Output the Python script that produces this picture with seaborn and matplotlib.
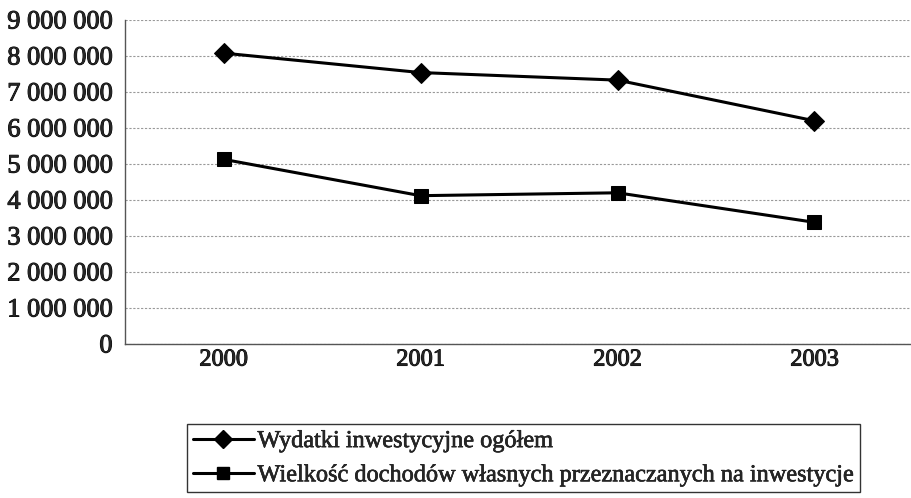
import numpy as np
import pandas as pd
import seaborn as sns
import matplotlib
matplotlib.use("Agg")
import matplotlib.pyplot as plt
import matplotlib.patheffects as pe
from matplotlib.ticker import FuncFormatter, FixedLocator

# =========================
# DATA
# =========================
years = ["2000", "2001", "2002", "2003"]
wydatki = [8080000, 7540000, 7330000, 6200000]
dochody = [5130000, 4120000, 4200000, 3380000]
labels = ["Wydatki inwestycyjne ogółem",
          "Wielkość dochodów własnych przeznaczanych na inwestycje"]

df = pd.DataFrame({
    "rok": years * 2,
    "wartosc": wydatki + dochody,
    "seria": [labels[0]] * 4 + [labels[1]] * 4,
})

sns.set_style("white")
plt.rcParams["font.family"] = ["Liberation Serif", "DejaVu Serif"]

fig = plt.figure(figsize=(9.12, 4.98), dpi=100)
ax = fig.add_axes([125 / 912, 1 - 344 / 498, 788 / 912, 324 / 498])

sns.lineplot(data=df, x="rok", y="wartosc", hue="seria", style="seria",
             markers=["D", "s"], dashes=False, sort=False,
             palette=["black", "black"], linewidth=2.2, markersize=10,
             markeredgecolor="black", ax=ax, legend=False)

# =========================
# AXES
# =========================
ax.set_xlim(-0.5, 3.5)
ax.set_ylim(0, 9000000)
ax.set_yticks(np.arange(0, 9000001, 1000000))
ax.yaxis.set_major_formatter(FuncFormatter(lambda v, p: f"{v:,.0f}".replace(",", " ")))
ax.set_xlabel("")
ax.set_ylabel("")

ax.grid(axis="y", color="#999999", linestyle=(0, (2, 1.5)), linewidth=0.8)
ax.xaxis.set_minor_locator(FixedLocator([-0.5, 0.5, 1.5, 2.5, 3.5]))
ax.tick_params(axis="x", which="major", length=0, pad=4, labelsize=17.5)
ax.tick_params(axis="x", which="minor", length=6, direction="out", color="#555555", width=1)
ax.tick_params(axis="y", length=5, direction="out", color="#555555", labelsize=19, pad=4)

# scan-like heavier text
thick = [pe.withStroke(linewidth=0.7, foreground="black")]
for t in ax.get_xticklabels() + ax.get_yticklabels():
    t.set_path_effects(thick)

for s in ["top", "right"]:
    ax.spines[s].set_visible(False)
for s in ["left", "bottom"]:
    ax.spines[s].set_color("#555555")
    ax.spines[s].set_linewidth(1.0)

# =========================
# LEGEND
# =========================
handles = [
    plt.Line2D([], [], color="black", marker="D", markersize=9, linewidth=2.2),
    plt.Line2D([], [], color="black", marker="s", markersize=9, linewidth=2.2),
]
leg = fig.legend(handles, labels, loc="upper left",
                 bbox_to_anchor=(187 / 912, 1 - 424 / 498),
                 frameon=True, fancybox=False, fontsize=17.5, handlelength=2.5,
                 handletextpad=0.15, borderpad=0.25, labelspacing=0.5,
                 borderaxespad=0)
leg.get_frame().set_edgecolor("black")
leg.get_frame().set_linewidth(1.0)
for t in leg.get_texts():
    t.set_path_effects([pe.withStroke(linewidth=0.4, foreground="black")])

plt.savefig("out.png", dpi=100)
